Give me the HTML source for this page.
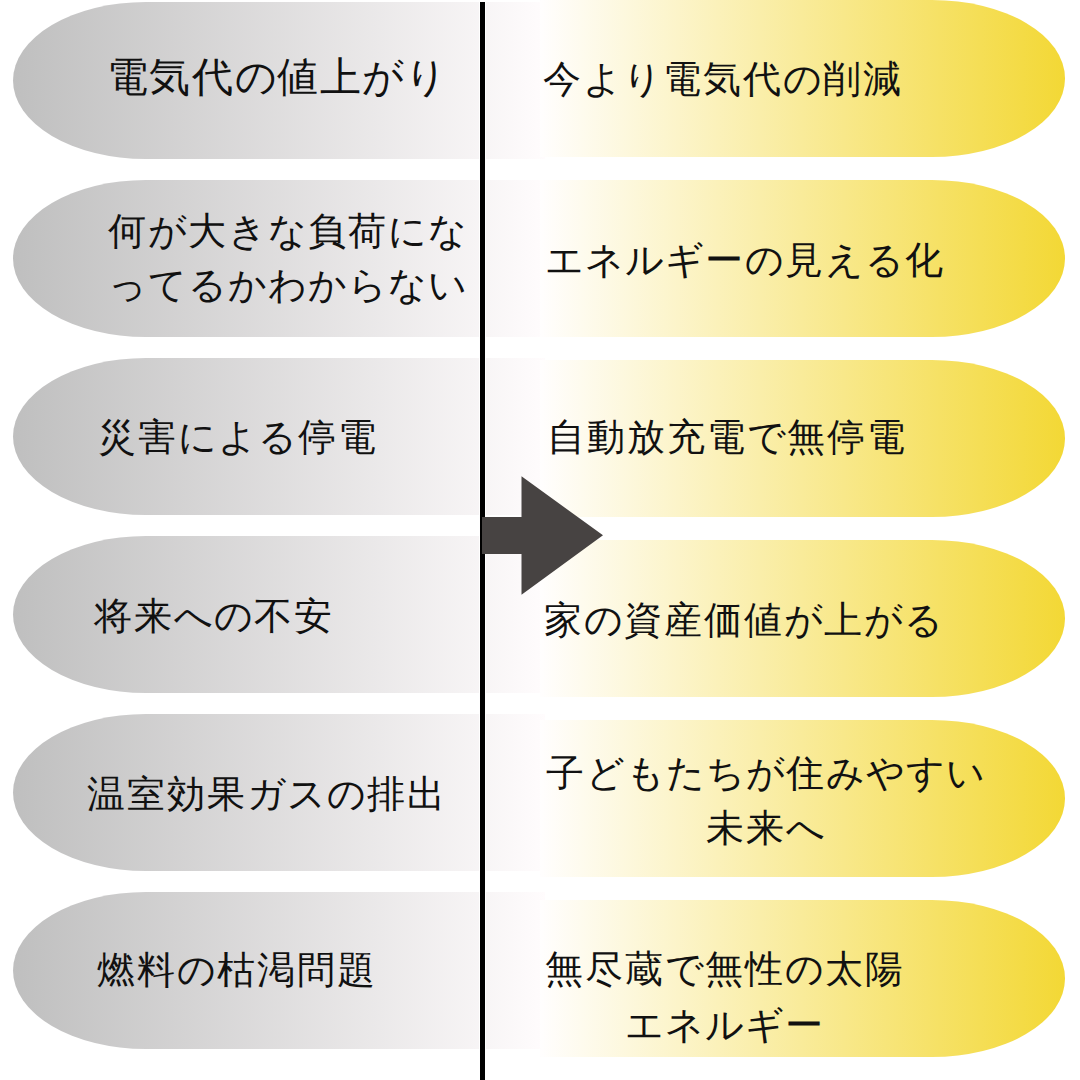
<!DOCTYPE html>
<html lang="ja"><head><meta charset="utf-8"><title>電気代と太陽エネルギーの比較</title><style>
*{margin:0;padding:0;box-sizing:border-box}
html,body{width:1080px;height:1080px;overflow:hidden;background:#fff}
body{position:relative;font-family:"Liberation Serif",serif;color:#111}
.pill{position:absolute}
.before{left:13px;width:532px;height:157.3px;border-radius:133px 0 0 133px/78.65px 0 0 78.65px;background:linear-gradient(to right,#bfbfbf,#fffcfd)}
.after{left:540px;width:525px;height:156.6px;border-radius:0 133px 133px 0/0 78.3px 78.3px 0;background:linear-gradient(to right,#fffefe,#f3d835)}
.divider{position:absolute;left:479px;top:2px;width:6.6px;height:1078px;background:#000;border-left:1px solid #fff;border-right:1px solid #fff}
.arrow{position:absolute;left:0;top:0}
.tx{position:absolute;white-space:nowrap;line-height:1;font-size:38px;letter-spacing:2px}
.tx .k{letter-spacing:1px}
.tx.big{font-size:40.5px;letter-spacing:1.6px}
.tx.big .k{letter-spacing:0.6px}
</style></head>
<body>
<div class="pill before" style="top:2px"><div class="tx big" style="left:93.70px;top:56.25px">電気代<span class="k">の</span>値上<span class="k">がり</span></div></div>
<div class="pill before" style="top:180px"><div class="tx" style="left:95.10px;top:31.90px">何<span class="k">が</span>大<span class="k">きな</span>負荷<span class="k">にな</span></div><div class="tx" style="left:95.00px;top:85.80px"><span class="k">ってるかわからない</span></div></div>
<div class="pill before" style="top:358px"><div class="tx" style="left:84.85px;top:59.50px">災害<span class="k">による</span>停電</div></div>
<div class="pill before" style="top:536px"><div class="tx" style="left:80.60px;top:60.80px">将来<span class="k">への</span>不安</div></div>
<div class="pill before" style="top:713.8px"><div class="tx" style="left:73.80px;top:61.10px">温室効果<span class="k">ガスの</span>排出</div></div>
<div class="pill before" style="top:892px"><div class="tx" style="left:84.45px;top:58.90px">燃料<span class="k">の</span>枯渇問題</div></div>
<div class="pill after" style="top:0.1px"><div class="tx" style="left:2.90px;top:60.20px">今<span class="k">より</span>電気代<span class="k">の</span>削減</div></div>
<div class="pill after" style="top:180.1px"><div class="tx" style="left:5.00px;top:60.70px"><span class="k">エネルギ</span>ー<span class="k">の</span>見<span class="k">える</span>化</div></div>
<div class="pill after" style="top:360.1px"><div class="tx" style="left:6.60px;top:58.30px">自動放充電<span class="k">で</span>無停電</div></div>
<div class="pill after" style="top:540.1px"><div class="tx" style="left:3.90px;top:60.80px">家<span class="k">の</span>資産価値<span class="k">が</span>上<span class="k">がる</span></div></div>
<div class="pill after" style="top:720.1px"><div class="tx" style="left:5.90px;top:33.90px">子<span class="k">どもたちが</span>住<span class="k">みやすい</span></div><div class="tx" style="left:165.85px;top:88.90px">未来<span class="k">へ</span></div></div>
<div class="pill after" style="top:900.1px"><div class="tx" style="left:4.75px;top:50.30px">無尽蔵<span class="k">で</span>無性<span class="k">の</span>太陽</div><div class="tx" style="left:84.60px;top:105.80px"><span class="k">エネルギ</span>ー</div></div>
<div class="divider"></div>
<svg class="arrow" width="1080" height="1080" viewBox="0 0 1080 1080"><polygon points="482,517 521.5,517 521.5,476.3 603,535.3 521.5,594.8 521.5,554 482,554" fill="#474342"/></svg>
</body></html>
